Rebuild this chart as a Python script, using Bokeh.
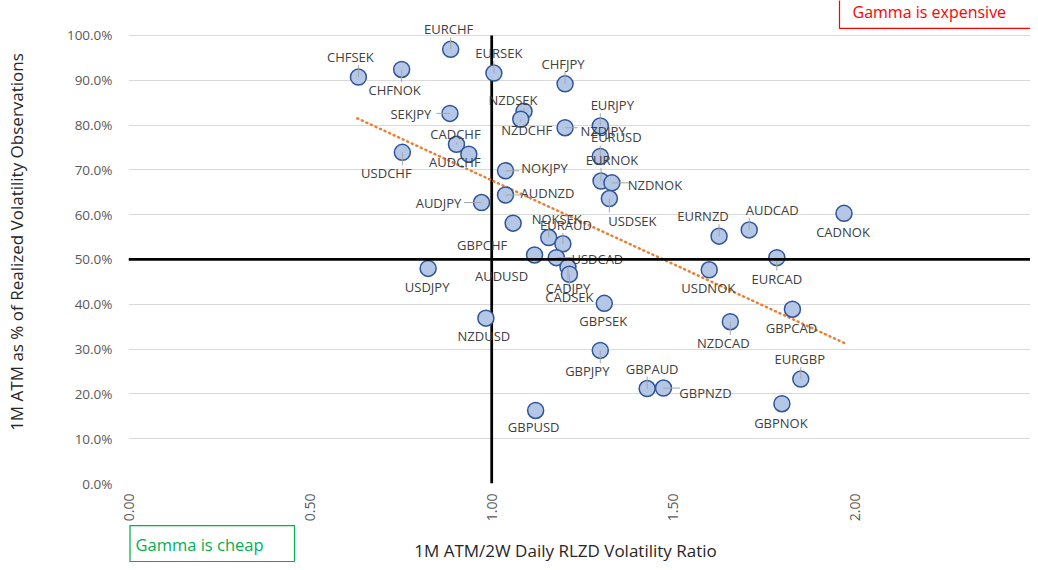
import numpy as np
from bokeh.plotting import figure
from bokeh.layouts import column
from bokeh.models import (ColumnDataSource, Range1d, Span, NumeralTickFormatter, FixedTicker)
from bokeh.core.properties import value
from bokeh.embed import file_html
from bokeh.resources import INLINE

# ---- data ----
pairs = ["EURCHF", "CHFSEK", "CHFNOK", "EURSEK", "CHFJPY", "NZDSEK", "NZDCHF", "SEKJPY",
         "NZDJPY", "EURJPY", "CADCHF", "AUDCHF", "USDCHF", "EURUSD", "NOKJPY", "EURNOK",
         "NZDNOK", "USDSEK", "AUDNZD", "AUDJPY", "GBPCHF", "NOKSEK", "EURAUD", "AUDUSD",
         "USDCAD", "CADJPY", "CADSEK", "USDJPY", "GBPSEK", "NZDUSD", "GBPJPY", "GBPAUD",
         "GBPNZD", "GBPUSD", "EURNZD", "AUDCAD", "CADNOK", "EURCAD", "USDNOK", "GBPCAD",
         "NZDCAD", "EURGBP", "GBPNOK"]
vol_ratio = [0.887, 0.633, 0.752, 1.006, 1.202, 1.089, 1.080, 0.885,
             1.202, 1.299, 0.903, 0.937, 0.754, 1.299, 1.038, 1.301,
             1.331, 1.324, 1.038, 0.972, 1.059, 1.157, 1.196, 1.118,
             1.178, 1.210, 1.214, 0.825, 1.310, 0.984, 1.299, 1.428,
             1.473, 1.121, 1.626, 1.709, 1.970, 1.785, 1.599, 1.828,
             1.657, 1.851, 1.799]
atm_pct = [0.969, 0.907, 0.924, 0.916, 0.892, 0.831, 0.813, 0.826,
           0.794, 0.798, 0.757, 0.735, 0.739, 0.730, 0.698, 0.675,
           0.671, 0.636, 0.644, 0.627, 0.581, 0.549, 0.535, 0.510,
           0.504, 0.483, 0.467, 0.480, 0.402, 0.369, 0.297, 0.212,
           0.213, 0.163, 0.552, 0.566, 0.603, 0.504, 0.477, 0.389,
           0.361, 0.233, 0.178]
trend_x = [0.630, 1.975]
trend_y = [0.815, 0.312]
y_ticks = [0.0, 0.1, 0.2, 0.3, 0.4, 0.5, 0.6, 0.7, 0.8, 0.9, 1.0]
x_ticks = [0.0, 0.5, 1.0, 1.5, 2.0, 2.5]
x_title = "1M ATM/2W Daily RLZD Volatility Ratio"
y_title = "1M ATM as % of Realized Volatility Observations"

# ---- label placement (screen pixel offsets from each point, y downward) ----
label_dx = [-2, -8, -7, 5, -2, -11, 6, -39,
            38, 12, -1, -14, -16, 16, 39, 11,
            43, 23, 42, -43, -31, 8, 3, -33,
            41, 0, 0, -1, -1, -2, -13, 5,
            42, -2, -16, 23, -1, 0, -1, -1,
            -7, -1, -1]
label_dy = [-20, -20, 21, -20, -20, -11, 11, 1,
            3, -21, -10, 8, 21, -19, -3, -21,
            2, 22, -2, 0, 22, -19, -19, 21,
            1, 21, 23, 19, 18, 18, 21, -20,
            5, 17, -20, -20, 19, 21, 18, 19,
            21, -20, 19]
with_leader = {"EURCHF", "CHFSEK", "CHFNOK", "EURSEK", "CHFJPY", "NZDSEK", "NZDCHF", "SEKJPY",
               "NZDJPY", "EURJPY", "CADCHF", "AUDCHF", "USDCHF", "EURUSD", "NOKJPY", "EURNOK",
               "NZDNOK", "USDSEK", "AUDNZD", "AUDJPY", "NOKSEK", "EURAUD", "USDCAD", "CADJPY",
               "CADSEK", "GBPJPY", "GBPAUD", "GBPNZD", "EURNZD", "AUDCAD", "EURCAD", "NZDCAD",
               "EURGBP"}

PX_X = 363.2   # pixels per x unit
PX_Y = 449.0   # pixels per y unit
FRAME_W, FRAME_H = 902, 484

src = ColumnDataSource(dict(x=vol_ratio, y=atm_pct, name=pairs, dx=label_dx, dy=label_dy))

p = figure(width=1030, height=524, output_backend="svg", toolbar_location=None,
           x_range=Range1d(0, FRAME_W / PX_X), y_range=Range1d(0, FRAME_H / PX_Y),
           min_border_left=128, min_border_right=0, min_border_top=0, min_border_bottom=40)
p.outline_line_color = None
p.background_fill_color = "white"
p.border_fill_color = "white"

# grid
p.xgrid.grid_line_color = None
p.ygrid.grid_line_color = "#d9d9d9"
p.ygrid.grid_line_width = 1
p.ygrid.ticker = FixedTicker(ticks=y_ticks)

# axes
p.yaxis.ticker = FixedTicker(ticks=y_ticks)
p.yaxis.formatter = NumeralTickFormatter(format="0.0%")
p.xaxis.ticker = FixedTicker(ticks=x_ticks)
p.xaxis.formatter = NumeralTickFormatter(format="0.00")
p.xaxis.major_label_orientation = np.pi / 2
for ax in (p.xaxis, p.yaxis):
    ax.axis_line_color = None
    ax.major_tick_line_color = None
    ax.minor_tick_line_color = None
    ax.major_tick_out = 0
    ax.major_tick_in = 0
    ax.minor_tick_out = 0
    ax.major_label_text_font = "Open Sans"
    ax.major_label_text_color = "#595959"
    ax.axis_label_text_font = "Open Sans"
    ax.axis_label_text_font_size = "17px"
    ax.axis_label_text_font_style = "normal"
    ax.axis_label_text_color = "#262626"
p.yaxis.major_label_text_font_size = "13.5px"
p.xaxis.major_label_text_font_size = "14px"
p.yaxis.major_label_standoff = 16
p.xaxis.major_label_standoff = 10
p.yaxis.axis_label = y_title
p.yaxis.axis_label_standoff = 36

# quadrant lines
p.add_layout(Span(location=0.5, dimension="width", line_color="black", line_width=2.75))
p.segment(x0=[1.0], y0=[0.0], x1=[1.0], y1=[1.0], line_color="black", line_width=2.75)

# linear trendline
p.line(trend_x, trend_y, line_color="#ED7D31", line_width=2.5, line_dash="1 4", line_cap="round")

# points
p.scatter("x", "y", source=src, size=16, fill_color="#B4C7E7", line_color="#2F5597", line_width=1.5)

# leader lines from points to their moved labels
lx0, ly0, lx1, ly1 = [], [], [], []
for name, xv, yv, dx, dy in zip(pairs, vol_ratio, atm_pct, label_dx, label_dy):
    if name not in with_leader:
        continue
    hw = len(name) * 3.9 + 2
    hh = 8
    cx = min(max(0, dx - hw), dx + hw)
    cy = min(max(0, dy - hh), dy + hh)
    lx0.append(xv); ly0.append(yv)
    lx1.append(xv + cx / PX_X); ly1.append(yv - cy / PX_Y)
p.segment(x0=lx0, y0=ly0, x1=lx1, y1=ly1, line_color="#A6A6A6", line_width=1)

# data labels
p.text("x", "y", text="name", source=src, x_offset="dx", y_offset="dy",
       text_font=value("Open Sans"), text_font_size="13px", text_color="#404040",
       text_align="center", text_baseline="middle")

# "Gamma is expensive" box (top right)
p.quad(left=[(839 - 128) / PX_X], right=[2.6], bottom=[(484 - 28) / PX_Y], top=[1.2],
       fill_color="white", line_color="#FF0000", line_width=1.25)
p.text(x=[(852 - 128) / PX_X], y=[(484 - 12) / PX_Y], text=["Gamma is expensive"],
       text_font=value("Open Sans"), text_font_size="16px", text_color="#FF0000",
       text_align="left", text_baseline="middle")

# ---- bottom strip (frame aligned with the main plot): x-axis title and "Gamma is cheap" box ----
STRIP_H = 38
p2 = figure(width=1030, height=STRIP_H, output_backend="svg", toolbar_location=None,
            x_range=p.x_range, y_range=Range1d(0, STRIP_H),
            x_axis_type=None, y_axis_type=None,
            min_border_left=128, min_border_right=0, min_border_top=0, min_border_bottom=0)
p2.outline_line_color = None
p2.grid.visible = False
p2.background_fill_color = "white"
p2.border_fill_color = "white"
p2.quad(left=[1.5 / PX_X], right=[(294 - 128) / PX_X], bottom=[1], top=[37],
        fill_color=None, line_color="#00B050", line_width=1.25)
p2.text(x=[(135 - 128) / PX_X], y=[18], text=["Gamma is cheap"],
        text_font=value("Open Sans"), text_font_size="16.5px", text_color="#00B050",
        text_align="left", text_baseline="middle")
p2.text(x=[(565 - 128) / PX_X], y=[12], text=[x_title],
        text_font=value("Open Sans"), text_font_size="17px", text_color="#262626",
        text_align="center", text_baseline="middle")

layout = column(p, p2, spacing=0)
open("out.html", "w").write(file_html(layout, INLINE))
